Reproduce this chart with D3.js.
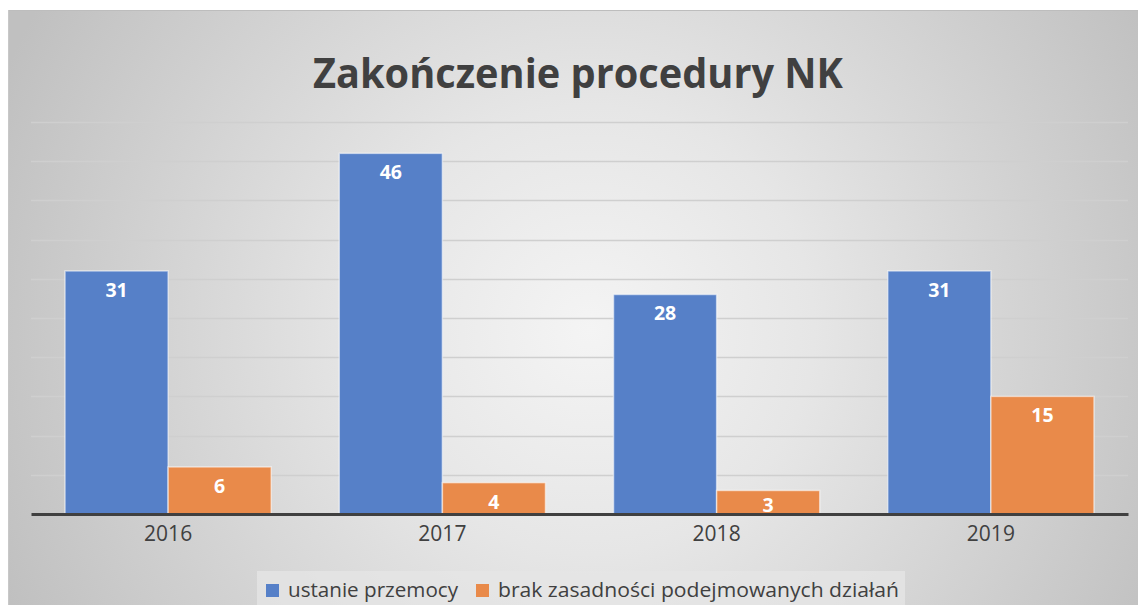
<!DOCTYPE html>
<html><head><meta charset="utf-8">
<script src="https://cdn.jsdelivr.net/npm/d3@7"></script>
<style>html,body{margin:0;padding:0;background:#fff;overflow:hidden}</style>
</head><body><svg id="c" width="1138" height="605"></svg>
<script>
const categories = ["2016","2017","2018","2019"];
const seriesNames = ["ustanie przemocy","brak zasadności podejmowanych działań"];
const ustanie = [31,46,28,31];
const brak = [6,4,3,15];
const yTicks = [0,5,10,15,20,25,30,35,40,45,50];
const colors = ["#5680c8","#e98a4a"];
const title = "Zakończenie procedury NK";

const svg = d3.select("#c");
const defs = svg.append("defs");
const rg = defs.append("radialGradient").attr("id","bg")
  .attr("gradientUnits","userSpaceOnUse").attr("cx",590).attr("cy",330).attr("r",640);
rg.append("stop").attr("offset","0").attr("stop-color","#f4f4f4");
rg.append("stop").attr("offset","0.35").attr("stop-color","#e6e6e6");
rg.append("stop").attr("offset","1").attr("stop-color","#c0c0c0");

svg.append("rect").attr("x",8).attr("y",10).attr("width",1130).attr("height",595)
  .attr("fill","url(#bg)");
svg.append("line").attr("x1",8).attr("x2",1138).attr("y1",10.5).attr("y2",10.5).attr("stroke","#bdbdbd");
svg.append("line").attr("x1",8.5).attr("x2",8.5).attr("y1",10).attr("y2",605).attr("stroke","#c8c8c8");

const x0 = d3.scaleBand().domain(categories).range([31,1128]).paddingInner(0).paddingOuter(0);
const y = d3.scaleLinear().domain([0,50]).range([514,122]);
const x1 = d3.scaleBand().domain([0,1]).range([0,x0.bandwidth()]).paddingOuter(0.33).paddingInner(0);

// gridlines
svg.append("g").selectAll("line").data(yTicks.filter(d=>d>0)).join("line")
  .attr("x1",31).attr("x2",1128).attr("y1",d=>Math.round(y(d))+0.5).attr("y2",d=>Math.round(y(d))+0.5)
  .attr("stroke","#cfcfcf").attr("stroke-width",1.5);

const data = categories.map((c,i)=>({c, vals:[ustanie[i], brak[i]]}));
const g = svg.append("g");
data.forEach(d=>{
  d.vals.forEach((v,s)=>{
    const bx = x0(d.c)+x1(s), bw = x1.bandwidth();
    g.append("rect").attr("x",bx).attr("y",y(v)).attr("width",bw).attr("height",y(0)-y(v))
      .attr("fill",colors[s]).attr("stroke","#ffffff").attr("stroke-opacity",0.55).attr("stroke-width",1.5);
    const ly = Math.min(y(v)+26, y(0)-2);
    g.append("text").attr("x",bx+bw/2).attr("y",ly).attr("text-anchor","middle")
      .attr("font-family","Open Sans, Liberation Sans, sans-serif").attr("font-weight","bold")
      .attr("font-size",19.5).attr("fill","#ffffff").text(v);
  });
});

// axis
const ax = svg.append("g").attr("transform","translate(0,514)").call(d3.axisBottom(x0).tickSize(0).tickPadding(12));
ax.select(".domain").attr("stroke","#404040").attr("stroke-width",3);
ax.selectAll("text").attr("font-family","Open Sans, Liberation Sans, sans-serif").attr("font-size",21).attr("fill","#404040");

// title
svg.append("text").attr("x",578).attr("y",88).attr("text-anchor","middle")
  .attr("font-family","Open Sans, Liberation Sans, sans-serif").attr("font-weight","bold")
  .attr("font-size",42).attr("fill","#404040").attr("textLength",530).attr("lengthAdjust","spacingAndGlyphs").text(title);

// legend
svg.append("rect").attr("x",257).attr("y",571).attr("width",648).attr("height",34).attr("fill","#e6e6e6").attr("opacity",0.75);
const leg = svg.append("g");
const legItems = [{x:266, tx:288, w:170},{x:476, tx:498, w:401}];
legItems.forEach((it,i)=>{
  leg.append("rect").attr("x",it.x).attr("y",584).attr("width",13).attr("height",13).attr("fill",colors[i]);
  leg.append("text").attr("x",it.tx).attr("y",597).attr("font-family","Open Sans, Liberation Sans, sans-serif")
    .attr("font-size",20).attr("fill","#404040").attr("textLength",it.w).attr("lengthAdjust","spacingAndGlyphs").text(seriesNames[i]);
});
</script></body></html>
